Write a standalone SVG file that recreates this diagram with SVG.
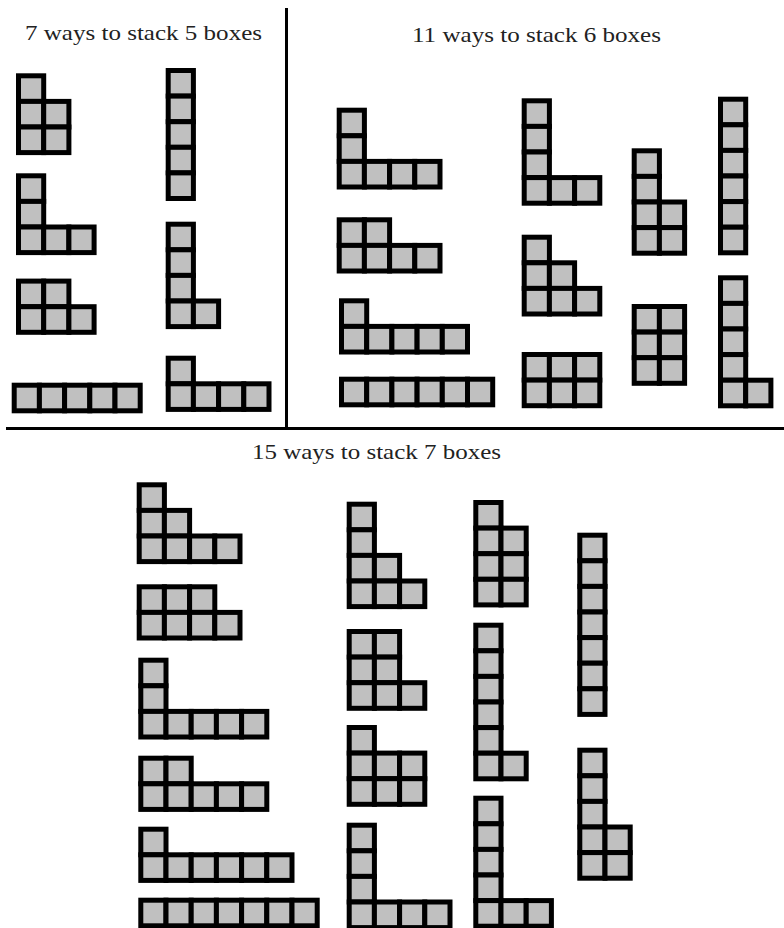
<svg xmlns="http://www.w3.org/2000/svg" xmlns:xlink="http://www.w3.org/1999/xlink" width="784" height="928" viewBox="0 0 784 928">
<style>
.cell{fill:#c0c0c0;stroke:#000;stroke-width:5}
.title{font-family:"Liberation Serif","Times New Roman",serif;font-size:21px;fill:#222;text-anchor:start}
.div{stroke:#000;stroke-width:3;fill:none}
</style>
<defs>
<rect id="c" class="cell" x="2.5" y="2.5" width="25.2" height="25.6"/>
</defs>
<rect width="784" height="928" fill="#fff"/>
<g id="dividers">
<line class="div" x1="286.5" y1="8" x2="286.5" y2="428"/>
<line class="div" x1="6" y1="428.5" x2="784" y2="428.5"/>
</g>
<text class="title" x="25" y="40" textLength="237" lengthAdjust="spacingAndGlyphs">7 ways to stack 5 boxes</text>
<text class="title" x="412" y="42" textLength="249" lengthAdjust="spacingAndGlyphs">11 ways to stack 6 boxes</text>
<text class="title" x="252" y="459" textLength="249" lengthAdjust="spacingAndGlyphs">15 ways to stack 7 boxes</text>

<!-- 5 boxes -->
<g id="p5-221" transform="translate(16,73.3)">
<use href="#c" x="0" y="0"/>
<use href="#c" x="0" y="25.6"/><use href="#c" x="25.2" y="25.6"/>
<use href="#c" x="0" y="51.2"/><use href="#c" x="25.2" y="51.2"/>
</g>
<g id="p5-311" transform="translate(16,173.3)">
<use href="#c" x="0" y="0"/>
<use href="#c" x="0" y="25.6"/>
<use href="#c" x="0" y="51.2"/><use href="#c" x="25.2" y="51.2"/><use href="#c" x="50.4" y="51.2"/>
</g>
<g id="p5-32" transform="translate(16,278.6)">
<use href="#c" x="0" y="0"/><use href="#c" x="25.2" y="0"/>
<use href="#c" x="0" y="25.6"/><use href="#c" x="25.2" y="25.6"/><use href="#c" x="50.4" y="25.6"/>
</g>
<g id="p5-5" transform="translate(11.7,382.7)">
<use href="#c" x="0" y="0"/><use href="#c" x="25.2" y="0"/><use href="#c" x="50.4" y="0"/><use href="#c" x="75.6" y="0"/><use href="#c" x="100.8" y="0"/>
</g>
<g id="p5-11111" transform="translate(165.7,68)">
<use href="#c" x="0" y="0"/><use href="#c" x="0" y="25.6"/><use href="#c" x="0" y="51.2"/><use href="#c" x="0" y="76.8"/><use href="#c" x="0" y="102.4"/>
</g>
<g id="p5-2111" transform="translate(165.7,221.7)">
<use href="#c" x="0" y="0"/><use href="#c" x="0" y="25.6"/><use href="#c" x="0" y="51.2"/>
<use href="#c" x="0" y="76.8"/><use href="#c" x="25.2" y="76.8"/>
</g>
<g id="p5-41" transform="translate(165.7,355.7)">
<use href="#c" x="0" y="0"/>
<use href="#c" x="0" y="25.6"/><use href="#c" x="25.2" y="25.6"/><use href="#c" x="50.4" y="25.6"/><use href="#c" x="75.6" y="25.6"/>
</g>

<!-- 6 boxes -->
<g id="p6-411" transform="translate(336.7,107.7)">
<use href="#c" x="0" y="0"/>
<use href="#c" x="0" y="25.6"/>
<use href="#c" x="0" y="51.2"/><use href="#c" x="25.2" y="51.2"/><use href="#c" x="50.4" y="51.2"/><use href="#c" x="75.6" y="51.2"/>
</g>
<g id="p6-42" transform="translate(336.7,217.3)">
<use href="#c" x="0" y="0"/><use href="#c" x="25.2" y="0"/>
<use href="#c" x="0" y="25.6"/><use href="#c" x="25.2" y="25.6"/><use href="#c" x="50.4" y="25.6"/><use href="#c" x="75.6" y="25.6"/>
</g>
<g id="p6-51" transform="translate(339,298.3)">
<use href="#c" x="0" y="0"/>
<use href="#c" x="0" y="25.6"/><use href="#c" x="25.2" y="25.6"/><use href="#c" x="50.4" y="25.6"/><use href="#c" x="75.6" y="25.6"/><use href="#c" x="100.8" y="25.6"/>
</g>
<g id="p6-6" transform="translate(339,376.7)">
<use href="#c" x="0" y="0"/><use href="#c" x="25.2" y="0"/><use href="#c" x="50.4" y="0"/><use href="#c" x="75.6" y="0"/><use href="#c" x="100.8" y="0"/><use href="#c" x="126" y="0"/>
</g>
<g id="p6-3111" transform="translate(521.7,98.3)">
<use href="#c" x="0" y="0"/><use href="#c" x="0" y="25.6"/><use href="#c" x="0" y="51.2"/>
<use href="#c" x="0" y="76.8"/><use href="#c" x="25.2" y="76.8"/><use href="#c" x="50.4" y="76.8"/>
</g>
<g id="p6-321" transform="translate(521.7,234.7)">
<use href="#c" x="0" y="0"/>
<use href="#c" x="0" y="25.6"/><use href="#c" x="25.2" y="25.6"/>
<use href="#c" x="0" y="51.2"/><use href="#c" x="25.2" y="51.2"/><use href="#c" x="50.4" y="51.2"/>
</g>
<g id="p6-33" transform="translate(521.7,352)">
<use href="#c" x="0" y="0"/><use href="#c" x="25.2" y="0"/><use href="#c" x="50.4" y="0"/>
<use href="#c" x="0" y="25.6"/><use href="#c" x="25.2" y="25.6"/><use href="#c" x="50.4" y="25.6"/>
</g>
<g id="p6-2211" transform="translate(631.7,148.3)">
<use href="#c" x="0" y="0"/><use href="#c" x="0" y="25.6"/>
<use href="#c" x="0" y="51.2"/><use href="#c" x="25.2" y="51.2"/>
<use href="#c" x="0" y="76.8"/><use href="#c" x="25.2" y="76.8"/>
</g>
<g id="p6-222" transform="translate(631.7,304)">
<use href="#c" x="0" y="0"/><use href="#c" x="25.2" y="0"/>
<use href="#c" x="0" y="25.6"/><use href="#c" x="25.2" y="25.6"/>
<use href="#c" x="0" y="51.2"/><use href="#c" x="25.2" y="51.2"/>
</g>
<g id="p6-111111" transform="translate(718,96.7)">
<use href="#c" x="0" y="0"/><use href="#c" x="0" y="25.6"/><use href="#c" x="0" y="51.2"/><use href="#c" x="0" y="76.8"/><use href="#c" x="0" y="102.4"/><use href="#c" x="0" y="128"/>
</g>
<g id="p6-21111" transform="translate(718,275.3)">
<use href="#c" x="0" y="0"/><use href="#c" x="0" y="25.6"/><use href="#c" x="0" y="51.2"/><use href="#c" x="0" y="76.8"/>
<use href="#c" x="0" y="102.4"/><use href="#c" x="25.2" y="102.4"/>
</g>

<!-- 7 boxes -->
<g id="p7-421" transform="translate(136.7,482.3)">
<use href="#c" x="0" y="0"/>
<use href="#c" x="0" y="25.6"/><use href="#c" x="25.2" y="25.6"/>
<use href="#c" x="0" y="51.2"/><use href="#c" x="25.2" y="51.2"/><use href="#c" x="50.4" y="51.2"/><use href="#c" x="75.6" y="51.2"/>
</g>
<g id="p7-43" transform="translate(136.7,584.3)">
<use href="#c" x="0" y="0"/><use href="#c" x="25.2" y="0"/><use href="#c" x="50.4" y="0"/>
<use href="#c" x="0" y="25.6"/><use href="#c" x="25.2" y="25.6"/><use href="#c" x="50.4" y="25.6"/><use href="#c" x="75.6" y="25.6"/>
</g>
<g id="p7-511" transform="translate(138.3,657.7)">
<use href="#c" x="0" y="0"/>
<use href="#c" x="0" y="25.6"/>
<use href="#c" x="0" y="51.2"/><use href="#c" x="25.2" y="51.2"/><use href="#c" x="50.4" y="51.2"/><use href="#c" x="75.6" y="51.2"/><use href="#c" x="100.8" y="51.2"/>
</g>
<g id="p7-52" transform="translate(138.3,755.7)">
<use href="#c" x="0" y="0"/><use href="#c" x="25.2" y="0"/>
<use href="#c" x="0" y="25.6"/><use href="#c" x="25.2" y="25.6"/><use href="#c" x="50.4" y="25.6"/><use href="#c" x="75.6" y="25.6"/><use href="#c" x="100.8" y="25.6"/>
</g>
<g id="p7-61" transform="translate(138.3,826.7)">
<use href="#c" x="0" y="0"/>
<use href="#c" x="0" y="25.6"/><use href="#c" x="25.2" y="25.6"/><use href="#c" x="50.4" y="25.6"/><use href="#c" x="75.6" y="25.6"/><use href="#c" x="100.8" y="25.6"/><use href="#c" x="126" y="25.6"/>
</g>
<g id="p7-7" transform="translate(138.3,897.7)">
<use href="#c" x="0" y="0"/><use href="#c" x="25.2" y="0"/><use href="#c" x="50.4" y="0"/><use href="#c" x="75.6" y="0"/><use href="#c" x="100.8" y="0"/><use href="#c" x="126" y="0"/><use href="#c" x="151.2" y="0"/>
</g>
<g id="p7-3211" transform="translate(346.7,501.7)">
<use href="#c" x="0" y="0"/>
<use href="#c" x="0" y="25.6"/>
<use href="#c" x="0" y="51.2"/><use href="#c" x="25.2" y="51.2"/>
<use href="#c" x="0" y="76.8"/><use href="#c" x="25.2" y="76.8"/><use href="#c" x="50.4" y="76.8"/>
</g>
<g id="p7-322" transform="translate(346.7,629)">
<use href="#c" x="0" y="0"/><use href="#c" x="25.2" y="0"/>
<use href="#c" x="0" y="25.6"/><use href="#c" x="25.2" y="25.6"/>
<use href="#c" x="0" y="51.2"/><use href="#c" x="25.2" y="51.2"/><use href="#c" x="50.4" y="51.2"/>
</g>
<g id="p7-331" transform="translate(346.7,725)">
<use href="#c" x="0" y="0"/>
<use href="#c" x="0" y="25.6"/><use href="#c" x="25.2" y="25.6"/><use href="#c" x="50.4" y="25.6"/>
<use href="#c" x="0" y="51.2"/><use href="#c" x="25.2" y="51.2"/><use href="#c" x="50.4" y="51.2"/>
</g>
<g id="p7-4111" transform="translate(346.7,822.7)">
<use href="#c" x="0" y="0"/><use href="#c" x="0" y="25.6"/><use href="#c" x="0" y="51.2"/>
<use href="#c" x="0" y="76.8"/><use href="#c" x="25.2" y="76.8"/><use href="#c" x="50.4" y="76.8"/><use href="#c" x="75.6" y="76.8"/>
</g>
<g id="p7-2221" transform="translate(473.3,500)">
<use href="#c" x="0" y="0"/>
<use href="#c" x="0" y="25.6"/><use href="#c" x="25.2" y="25.6"/>
<use href="#c" x="0" y="51.2"/><use href="#c" x="25.2" y="51.2"/>
<use href="#c" x="0" y="76.8"/><use href="#c" x="25.2" y="76.8"/>
</g>
<g id="p7-211111" transform="translate(473.3,622.7)">
<use href="#c" x="0" y="0"/><use href="#c" x="0" y="25.6"/><use href="#c" x="0" y="51.2"/><use href="#c" x="0" y="76.8"/><use href="#c" x="0" y="102.4"/>
<use href="#c" x="0" y="128"/><use href="#c" x="25.2" y="128"/>
</g>
<g id="p7-31111" transform="translate(473.3,795.7)">
<use href="#c" x="0" y="0"/><use href="#c" x="0" y="25.6"/><use href="#c" x="0" y="51.2"/><use href="#c" x="0" y="76.8"/>
<use href="#c" x="0" y="102.4"/><use href="#c" x="25.2" y="102.4"/><use href="#c" x="50.4" y="102.4"/>
</g>
<g id="p7-1111111" transform="translate(577.3,532.7)">
<use href="#c" x="0" y="0"/><use href="#c" x="0" y="25.6"/><use href="#c" x="0" y="51.2"/><use href="#c" x="0" y="76.8"/><use href="#c" x="0" y="102.4"/><use href="#c" x="0" y="128"/><use href="#c" x="0" y="153.6"/>
</g>
<g id="p7-22111" transform="translate(577.3,747.7)">
<use href="#c" x="0" y="0"/><use href="#c" x="0" y="25.6"/><use href="#c" x="0" y="51.2"/>
<use href="#c" x="0" y="76.8"/><use href="#c" x="25.2" y="76.8"/>
<use href="#c" x="0" y="102.4"/><use href="#c" x="25.2" y="102.4"/>
</g>
</svg>
